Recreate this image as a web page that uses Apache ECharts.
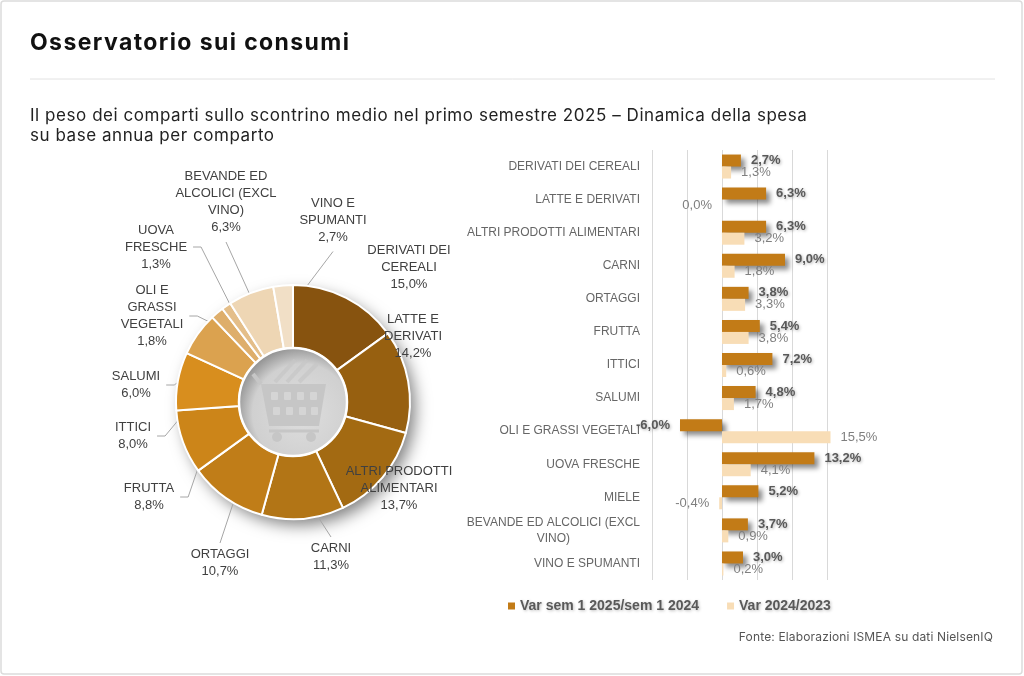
<!DOCTYPE html>
<html>
<head>
<meta charset="utf-8">
<title>Osservatorio sui consumi</title>
<script src="https://cdn.jsdelivr.net/npm/echarts@6/dist/echarts.min.js"></script>
<style>
  html, body { margin: 0; padding: 0; background: #fff; }
  #wrap { position: relative; width: 1024px; height: 676px; }
  #main { width: 1024px; height: 676px; }
  .txt { position: absolute; font-family: Inter, sans-serif; white-space: nowrap; }
  #title { left: 30px; top: 28px; font-size: 23px; line-height: 28px; font-weight: 700; color: #111; letter-spacing: 1.4px; }
  #subtitle { left: 30px; top: 105px; font-size: 17px; line-height: 20px; color: #222; letter-spacing: 0.55px; }
  #source { right: 31px; top: 629px; font-size: 12px; line-height: 16px; color: #555; letter-spacing: 0.15px; }
</style>
</head>
<body>
<div id="wrap">
  <div id="main"></div>
  <div class="txt" id="title">Osservatorio sui consumi</div>
  <div class="txt" id="subtitle">Il peso dei comparti sullo scontrino medio nel primo semestre 2025 – Dinamica della spesa<br>su base annua per comparto</div>
  <div class="txt" id="source">Fonte: Elaborazioni ISMEA su dati NielsenIQ</div>
</div>
<script>
// pie: share of each sector on the average receipt (%)
var pieNames = ['DERIVATI DEI\nCEREALI', 'LATTE E\nDERIVATI', 'ALTRI PRODOTTI\nALIMENTARI', 'CARNI', 'ORTAGGI',
  'FRUTTA', 'ITTICI', 'SALUMI', 'OLI E\nGRASSI\nVEGETALI', 'UOVA\nFRESCHE', 'BEVANDE ED\nALCOLICI (EXCL\nVINO)', 'VINO E\nSPUMANTI'];
var pieValues = [15.0, 14.2, 13.7, 11.3, 10.7, 8.8, 8.0, 6.0, 1.8, 1.3, 6.3, 2.7];
var pieColors = ['#87530f', '#976010', '#a36a12', '#b27516', '#c07d18', '#cc8519', '#d88e1e',
  '#dba24f', '#deae6b', '#e4be89', '#eed6b4', '#f1dfc6'];

// bars: yearly change by sector (%)
var barCategories = ['DERIVATI DEI CEREALI', 'LATTE E DERIVATI', 'ALTRI PRODOTTI ALIMENTARI', 'CARNI', 'ORTAGGI',
  'FRUTTA', 'ITTICI', 'SALUMI', 'OLI E GRASSI VEGETALI', 'UOVA FRESCHE', 'MIELE',
  'BEVANDE ED ALCOLICI (EXCL\nVINO)', 'VINO E SPUMANTI'];
var varSem = [2.7, 6.3, 6.3, 9.0, 3.8, 5.4, 7.2, 4.8, -6.0, 13.2, 5.2, 3.7, 3.0];
var varYear = [1.3, 0.0, 3.2, 1.8, 3.3, 3.8, 0.6, 1.7, 15.5, 4.1, -0.4, 0.9, 0.2];
var seriesNames = ['Var sem 1 2025/sem 1 2024', 'Var 2024/2023'];

// layout of the pie labels (centre of each label and where its leader line leaves it)
var pieCenter = [293, 402];
var pieLabelPos = [[409, 267], [413, 336], [399, 488], [331, 557], [220, 563], [149, 497],
  [133, 436], [136, 385], [152, 316], [156, 247], [226, 202], [333, 220]];
var pieLabelSide = ['', '', '', 't', 't', 'r', 'r', 'r', 'r', 'r', 'b', 'b'];

var fmt = function (v) { return v.toFixed(1).replace('.', ',') + '%'; };
var font = '"Liberation Sans", Arial, sans-serif';

var total = pieValues.reduce(function (a, b) { return a + b; }, 0);
var midAngles = [];
var acc = 0;
pieValues.forEach(function (v) {
  midAngles.push((acc + v / 2) / total * Math.PI * 2);
  acc += v;
});

var pieData = pieValues.map(function (v, i) {
  return {
    name: pieNames[i],
    value: v,
    itemStyle: { color: pieColors[i] },
    labelLine: { show: pieLabelSide[i] !== '' }
  };
});

function barItems(values) {
  return values.map(function (v) {
    return v <= 0 ? { value: v, label: { position: 'left' } } : v;
  });
}

// faint shopping cart in the middle of the donut
var cartGrey = '#c6c6c6', cartHole = '#d5d5d5';
var cx = pieCenter[0], cy = pieCenter[1] + 2;
var cart = [
  { type: 'polygon', shape: { points: [[cx - 32, cy - 20], [cx + 33, cy - 20], [cx + 26, cy + 22], [cx - 24, cy + 22]] }, style: { fill: cartGrey } },
  { type: 'line', shape: { x1: cx - 40, y1: cy - 30, x2: cx - 32, y2: cy - 20 }, style: { stroke: cartGrey, lineWidth: 4 } },
  { type: 'line', shape: { x1: cx - 18, y1: cy - 22, x2: cx + 2, y2: cy - 44 }, style: { stroke: cartGrey, lineWidth: 4, opacity: 0.7 } },
  { type: 'line', shape: { x1: cx - 6, y1: cy - 22, x2: cx + 14, y2: cy - 44 }, style: { stroke: cartGrey, lineWidth: 4, opacity: 0.7 } },
  { type: 'line', shape: { x1: cx + 6, y1: cy - 22, x2: cx + 24, y2: cy - 40 }, style: { stroke: cartGrey, lineWidth: 4, opacity: 0.7 } },
  { type: 'line', shape: { x1: cx - 24, y1: cy + 27, x2: cx + 26, y2: cy + 27 }, style: { stroke: cartGrey, lineWidth: 3 } },
  { type: 'circle', shape: { cx: cx - 16, cy: cy + 33, r: 5 }, style: { fill: cartGrey } },
  { type: 'circle', shape: { cx: cx + 18, cy: cy + 33, r: 5 }, style: { fill: cartGrey } }
];
[[-22, -12], [-9, -12], [4, -12], [17, -12], [-20, 3], [-7, 3], [6, 3], [18, 3]].forEach(function (p) {
  cart.push({ type: 'rect', shape: { x: cx + p[0], y: cy + p[1], width: 7, height: 8, r: 1 }, style: { fill: cartHole } });
});
cart.forEach(function (el) { el.z = 11; el.silent = true; });

var myChart = echarts.init(document.getElementById('main'));

var option = {
  backgroundColor: '#fff',
  animation: false,
  graphic: [
    { type: 'rect', shape: { x: 1, y: 1, width: 1021, height: 673, r: 3 }, style: { fill: 'none', stroke: '#dcdcdc', lineWidth: 1.5 }, silent: true },
    { type: 'line', shape: { x1: 30, y1: 79, x2: 995, y2: 79 }, style: { stroke: '#e2e2e2', lineWidth: 1 }, silent: true },
    // drop shadow under the donut
    { type: 'circle', z: 0, shape: { cx: pieCenter[0], cy: pieCenter[1], r: 116 },
      style: { fill: '#fff', shadowBlur: 16, shadowColor: 'rgba(0,0,0,0.5)', shadowOffsetX: 6, shadowOffsetY: 7 }, silent: true },
    // grey centre
    { type: 'circle', z: 10, shape: { cx: pieCenter[0], cy: pieCenter[1], r: 54 },
      style: {
        fill: new echarts.graphic.RadialGradient(0.58, 0.6, 0.62, [
          { offset: 0, color: '#dedede' }, { offset: 0.72, color: '#d0d0d0' }, { offset: 1, color: '#8e8e8e' }
        ]),
        stroke: '#fff', lineWidth: 2.5
      }, silent: true }
  ].concat(cart),
  legend: {
    data: seriesNames,
    left: 503, top: 594,
    icon: 'rect', itemWidth: 7, itemHeight: 7, itemGap: 28,
    textStyle: {
      fontFamily: font, fontSize: 14, fontWeight: 700, color: '#595959',
      textShadowColor: 'rgba(0,0,0,0.25)', textShadowBlur: 3, textShadowOffsetX: 1, textShadowOffsetY: 1
    }
  },
  grid: { left: 652, right: 197, top: 150, bottom: 96 },
  xAxis: {
    type: 'value', min: -10, max: 15, interval: 5,
    axisLabel: { show: false }, axisLine: { show: false }, axisTick: { show: false },
    splitLine: { lineStyle: { color: '#d9d9d9', width: 1 } }
  },
  yAxis: {
    type: 'category', data: barCategories, inverse: true,
    axisLine: { show: false }, axisTick: { show: false },
    axisLabel: {
      margin: 12, fontFamily: font, fontSize: 12, color: '#666', lineHeight: 16,
      formatter: function (v) {
        var parts = v.split('\n');
        return parts.length > 1 ? parts[0] + '\n{c|' + parts[1] + '}' : v;
      },
      rich: { c: { align: 'center', fontFamily: font, fontSize: 12, color: '#666', lineHeight: 16 } }
    }
  },
  series: [{
    type: 'pie',
    center: pieCenter, radius: [54, 117],
    startAngle: 90, clockwise: true,
    avoidLabelOverlap: false,
    z: 2,
    itemStyle: { borderColor: '#fff', borderWidth: 2 },
    label: {
      show: true, position: 'outside',
      fontFamily: font, fontSize: 13, lineHeight: 17, color: '#404040',
      formatter: function (p) { return p.name + '\n' + fmt(p.value); }
    },
    labelLine: { lineStyle: { color: '#a6a6a6', width: 1 } },
    labelLayout: function (params) {
      var i = params.dataIndex;
      var c = pieLabelPos[i];
      var w = params.labelRect.width, h = params.labelRect.height;
      var a = midAngles[i];
      var tip = [pieCenter[0] + 88 * Math.sin(a), pieCenter[1] - 88 * Math.cos(a)];
      var side = pieLabelSide[i];
      var pts;
      if (side === 'r') {
        var x0 = c[0] + w / 2 + 6;
        pts = [tip, [x0 + 8, c[1]], [x0, c[1]]];
      } else if (side === 'b') {
        var yb = c[1] + h / 2 + 6;
        pts = [tip, [c[0], yb], [c[0], yb]];
      } else if (side === 't') {
        var yt = c[1] - h / 2 - 3;
        pts = [tip, [c[0], yt], [c[0], yt]];
      }
      var out = { x: c[0], y: c[1], align: 'center', verticalAlign: 'middle' };
      if (pts) out.labelLinePoints = pts;
      return out;
    },
    data: pieData
  }, {
    name: seriesNames[0],
    type: 'bar', barWidth: 12, barGap: '0%', clip: false,
    itemStyle: { color: '#c27b17', shadowColor: 'rgba(0,0,0,0.45)', shadowBlur: 5, shadowOffsetX: 4, shadowOffsetY: 4 },
    label: {
      show: true, position: 'right', distance: 10,
      fontFamily: font, fontSize: 13, fontWeight: 700, color: '#595959',
      textShadowColor: 'rgba(0,0,0,0.3)', textShadowBlur: 3, textShadowOffsetX: 1, textShadowOffsetY: 1,
      formatter: function (p) { return fmt(p.value); }
    },
    data: barItems(varSem)
  }, {
    name: seriesNames[1],
    type: 'bar', barWidth: 12, barGap: '0%', clip: false,
    itemStyle: { color: '#f8ddb6' },
    label: {
      show: true, position: 'right', distance: 10,
      fontFamily: font, fontSize: 13, color: '#7f7f7f',
      formatter: function (p) { return fmt(p.value); }
    },
    data: barItems(varYear)
  }]
};

myChart.setOption(option);
</script>
</body>
</html>
